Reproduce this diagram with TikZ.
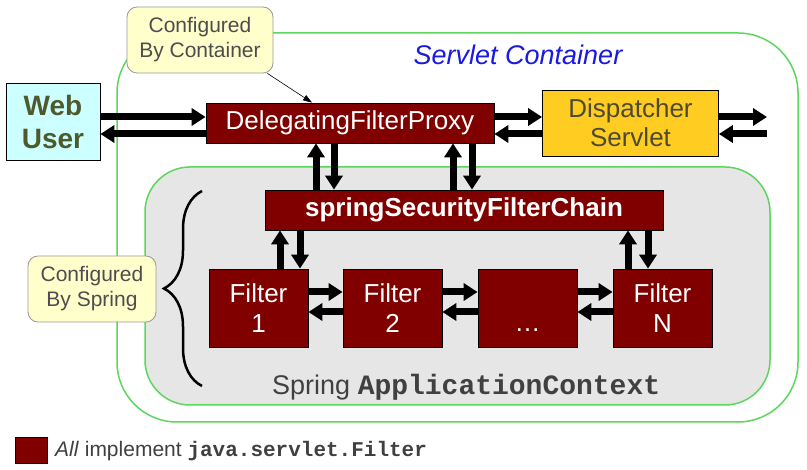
\documentclass[tikz,border=0pt]{standalone}
\usepackage{fontspec}
\setmainfont{Liberation Sans}
\setmonofont{Liberation Mono}
\usetikzlibrary{arrows.meta,decorations.pathreplacing,calc}
\definecolor{darkred}{HTML}{800000}
\definecolor{contgreen}{HTML}{5CD65C}
\definecolor{callfill}{HTML}{FFFFCC}
\definecolor{callgray}{HTML}{4D4D4D}
\definecolor{webfill}{HTML}{CCFFFF}
\definecolor{webtext}{HTML}{4F5A2C}
\definecolor{dispfill}{HTML}{FFCC22}
\definecolor{disptext}{HTML}{4D4A33}
\definecolor{ctxgray}{HTML}{E6E6E6}
\definecolor{ctxtext}{HTML}{404040}
\definecolor{contblue}{HTML}{1A1AE0}
\tikzset{
  redbox/.style={draw=black, line width=0.8pt, fill=darkred, text=white, inner sep=0pt, align=center, font=\fontsize{26}{30}\selectfont},
  callout/.style={draw=gray!80, line width=0.8pt, fill=callfill, rounded corners=10pt, text=callgray, inner sep=0pt, align=center, font=\fontsize{21}{25}\selectfont},
  big/.style={line width=7pt, -{Triangle[width=17pt,length=14pt]}, shorten >=0pt},
  thin/.style={line width=0.6pt, -{Triangle[width=6pt,length=9pt]}},
  region/.style={draw=contgreen, line width=1.5pt}
}
\begin{document}
\begin{tikzpicture}[x=1pt,y=-1pt]
\useasboundingbox[fill=white] (0,0) rectangle (807,470);
% containers
\draw[region, rounded corners=60pt] (117,33) rectangle (798,422);
\draw[region, fill=ctxgray, rounded corners=45pt] (145,167) rectangle (770,405);
\node[text=contblue, font=\fontsize{27}{30}\selectfont\itshape] (sc) at (518,55) {Servlet Container};
% boxes
\node[draw=black, line width=0.8pt, fill=webfill, text=webtext, minimum width=94pt, minimum height=77pt, inner sep=0pt, align=center, font=\fontsize{28}{33}\selectfont\bfseries] (web) at (53,121.5) {Web\\User};
\node[redbox, minimum width=288pt, minimum height=40pt] (dfp) at (350,123) {DelegatingFilterProxy};
\node[draw=black, line width=0.8pt, fill=dispfill, text=disptext, minimum width=176pt, minimum height=66pt, inner sep=0pt, align=center, font=\fontsize{26}{29}\selectfont] (disp) at (630.5,123) {Dispatcher\\Servlet};
\node[redbox, minimum width=398pt, minimum height=40pt, font=\fontsize{26}{30}\selectfont\bfseries] (chain) at (464,210) {springSecurityFilterChain};
\node[redbox, minimum width=99pt, minimum height=78pt] (f1) at (258.5,308) {Filter\\1};
\node[redbox, minimum width=99pt, minimum height=78pt] (f2) at (392.5,308) {Filter\\2};
\node[redbox, minimum width=99pt, minimum height=78pt] (f3) at (527.5,308) {\vphantom{Filter}\\[-2pt]\ldots};
\node[redbox, minimum width=99pt, minimum height=78pt] (fN) at (662.5,308) {Filter\\N};
% callouts
\node[callout, minimum width=146pt, minimum height=66pt] (cc) at (200,40) {Configured\\By Container};
\node[callout, minimum width=128pt, minimum height=66pt] (cs) at (92,289) {Configured\\By Spring};
% brace
\draw[line width=2.5pt, decorate, decoration={brace, amplitude=38pt, raise=0pt}] (202,386) -- (202,191);
\node[anchor=base west, text=ctxtext, inner sep=0pt, font=\fontsize{27}{30}\selectfont] (ctx) at (272,395) {Spring \texttt{\bfseries\fontsize{28}{30}\selectfont ApplicationContext}};
% arrows
\coordinate (out1) at (767,117);
\coordinate (out2) at (767,134);
\draw[big] (web.east |- 0,117) -- (dfp.west |- 0,117);
\draw[big] (dfp.west |- 0,134) -- (web.east |- 0,134);
\draw[big] (dfp.east |- 0,117) -- (disp.west |- 0,117);
\draw[big] (disp.west |- 0,134) -- (dfp.east |- 0,134);
\draw[big] (disp.east |- out1) -- (out1);
\draw[big] (out2) -- (disp.east |- out2);
\draw[big] (chain.north -| 316,0) -- (dfp.south -| 316,0);
\draw[big] (dfp.south -| 334,0) -- (chain.north -| 334,0);
\draw[big] (chain.north -| 453,0) -- (dfp.south -| 453,0);
\draw[big] (dfp.south -| 472,0) -- (chain.north -| 472,0);
\draw[big] (f1.north -| 280,0) -- (chain.south -| 280,0);
\draw[big] (chain.south -| 300,0) -- (f1.north -| 300,0);
\draw[big] (fN.north -| 628,0) -- (chain.south -| 628,0);
\draw[big] (chain.south -| 648,0) -- (fN.north -| 648,0);
\draw[big] (f1.east |- 0,292) -- (f2.west |- 0,292);
\draw[big] (f2.west |- 0,312) -- (f1.east |- 0,312);
\draw[big] (f2.east |- 0,292) -- (f3.west |- 0,292);
\draw[big] (f3.west |- 0,312) -- (f2.east |- 0,312);
\draw[big] (f3.east |- 0,292) -- (fN.west |- 0,292);
\draw[big] (fN.west |- 0,312) -- (f3.east |- 0,312);
\draw[thin] ([xshift=-6pt]cc.south east) -- (dfp.north -| 312,0);
% legend
\node[fill=darkred, draw=black, line width=0.6pt, minimum width=32pt, minimum height=26pt, inner sep=0pt] (leg) at (31,450) {};
\node[anchor=west, inner sep=0pt, text=ctxtext, font=\fontsize{21}{24}\selectfont] (legtext) at (55,451) {\textit{All} implement \texttt{\bfseries java.servlet.Filter}};
\end{tikzpicture}
\end{document}
